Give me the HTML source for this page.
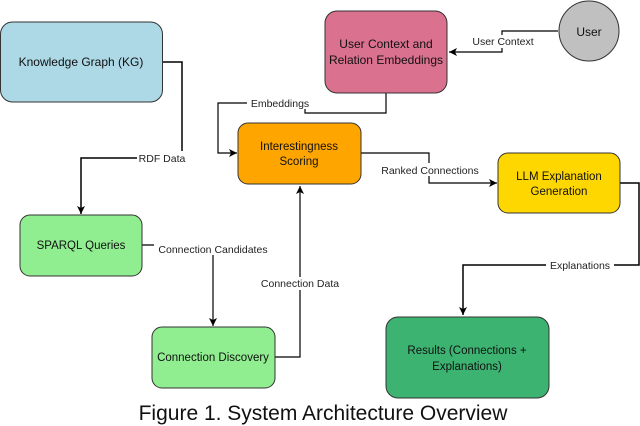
<!DOCTYPE html>
<html><head><meta charset="utf-8"><style>
html,body{margin:0;padding:0;background:#fff;}
svg{display:block;}
text{font-family:"Liberation Sans",Arial,sans-serif;}
</style></head><body>
<svg width="640" height="426" viewBox="0 0 640 426" xmlns="http://www.w3.org/2000/svg">
<defs>
<marker id="a" markerWidth="10" markerHeight="10" refX="8" refY="5" orient="auto" markerUnits="userSpaceOnUse">
<path d="M0,1 L8,5 L0,9 L2,5 Z" fill="#000"/></marker>
</defs>
<g fill="none" stroke="#000" stroke-width="1.2">
<polyline points="162,62 182,62 182,158 81,158 81,214" stroke-width="1.5" marker-end="url(#a)"/>
<polyline points="558,31 502,31 502,52 449,52" marker-end="url(#a)"/>
<polyline points="386,93 386,113 305,113 305,103 218,103 218,153 237,153" marker-end="url(#a)"/>
<polyline points="361,153 429,153 429,183 497,183" marker-end="url(#a)"/>
<polyline points="620,183 639,183 639,265 463,265 463,315" stroke-width="1.5" marker-end="url(#a)"/>
<polyline points="142,245 213,245 213,326" marker-end="url(#a)"/>
<polyline points="275,357 300,357 300,186" marker-end="url(#a)"/>
</g>
<g fill="#fff">
<rect x="137" y="151" width="50" height="13"/>
<rect x="469" y="35" width="68" height="13"/>
<rect x="247" y="96" width="66" height="13"/>
<rect x="377" y="163" width="106" height="13"/>
<rect x="546" y="258" width="68" height="13"/>
<rect x="154" y="242" width="118" height="13"/>
<rect x="257" y="277" width="86" height="13"/>
</g>
<g font-size="10.5" fill="#222" text-anchor="middle">
<text x="162" y="162">RDF Data</text>
<text x="503" y="45">User Context</text>
<text x="280" y="107">Embeddings</text>
<text x="430" y="174">Ranked Connections</text>
<text x="580" y="269">Explanations</text>
<text x="213" y="253">Connection Candidates</text>
<text x="300" y="287">Connection Data</text>
</g>
<g stroke="#333" stroke-width="1">
<rect x="0.5" y="22" width="162" height="80" rx="12" fill="#add8e6"/>
<rect x="325" y="11" width="122" height="82" rx="12" fill="#d9718f"/>
<circle cx="589" cy="31" r="30" fill="#c0c0c0"/>
<rect x="238" y="123" width="123" height="61" rx="10" fill="#ffa500"/>
<rect x="498" y="153" width="122" height="60" rx="10" fill="#ffd700"/>
<rect x="20" y="215" width="122" height="61" rx="10" fill="#90ee90"/>
<rect x="152" y="327" width="123" height="61" rx="10" fill="#90ee90"/>
<rect x="386" y="317" width="163" height="81" rx="12" fill="#3cb371"/>
</g>
<g font-size="12" fill="#111" text-anchor="middle">
<text x="81" y="66">Knowledge Graph (KG)</text>
<text x="386" y="48">User Context and</text>
<text x="386" y="64">Relation Embeddings</text>
<text x="589" y="36">User</text>
<text x="299" y="150" font-size="11.5">Interestingness</text>
<text x="299" y="165" font-size="11.5">Scoring</text>
<text x="559" y="180" font-size="11.5">LLM Explanation</text>
<text x="559" y="195" font-size="11.5">Generation</text>
<text x="81" y="249" font-size="11.5">SPARQL Queries</text>
<text x="213" y="361" font-size="11.5">Connection Discovery</text>
<text x="467" y="354" font-size="11.5">Results (Connections +</text>
<text x="467" y="370" font-size="11.5">Explanations)</text>
</g>
<text x="323" y="420" font-size="21" text-anchor="middle" fill="#111">Figure 1. System Architecture Overview</text>
</svg>
</body></html>
